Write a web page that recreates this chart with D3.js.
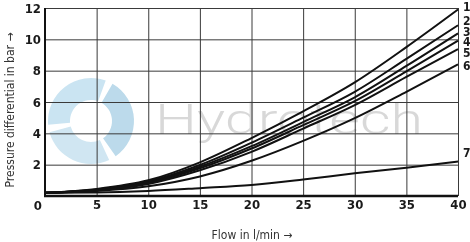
<!DOCTYPE html>
<meta charset="utf-8">
<style>
    body { margin: 0; background: #fff; }
    text { font-family: "Liberation Sans Narrow", "DejaVu Sans Condensed", "Liberation Sans", sans-serif; }
    .tick text { font-size: 13px; font-weight: bold; fill: #1a1a1a; }
    .grid line { stroke: #3a3a3a; stroke-width: 1; }
    .curve { fill: none; stroke: #111; stroke-width: 2; }
    .title { font-size: 12px; fill: #333; }
    .lbl { font-size: 13px; font-weight: bold; fill: #1a1a1a; }
    .endlbl { font-size: 12px; font-weight: bold; fill: #1a1a1a; }
</style>
<body>
<svg id="chart" width="470" height="242"></svg>
<script src="https://cdn.jsdelivr.net/npm/d3@7"></script>
<script>
    // flow in l/min
    var flow = [0, 5, 10, 15, 20, 25, 30, 35, 40];
    // pressure differential in bar, one list per curve
    var curve1 = [0.2, 0.45, 1.0, 2.15, 3.7, 5.4, 7.25, 9.5, 11.9];
    var curve2 = [0.2, 0.42, 0.93, 1.98, 3.4, 5.0, 6.65, 8.75, 10.9];
    var curve3 = [0.2, 0.40, 0.87, 1.87, 3.18, 4.72, 6.3, 8.3, 10.38];
    var curve4 = [0.2, 0.38, 0.83, 1.77, 3.03, 4.52, 6.05, 7.95, 9.91];
    var curve5 = [0.2, 0.36, 0.77, 1.64, 2.82, 4.3, 5.8, 7.6, 9.38];
    var curve6 = [0.2, 0.32, 0.62, 1.25, 2.25, 3.52, 4.97, 6.65, 8.4];
    var curve7 = [0.2, 0.22, 0.32, 0.5, 0.7, 1.05, 1.45, 1.8, 2.2];
    var curveNames = ["1", "2", "3", "4", "5", "6", "7"];
    var xTicks = [0, 5, 10, 15, 20, 25, 30, 35, 40];
    var yTicks = [0, 2, 4, 6, 8, 10, 12];

    var curves = [curve1, curve2, curve3, curve4, curve5, curve6, curve7];
    // small vertical shifts so the end labels don't collide
    var labelNudge = [-2.5, -4, -1.5, 1.5, 3.5, 2, -8.5];

    var plot = {left: 45, right: 458, top: 8, bottom: 196};

    var x = d3.scaleLinear().domain([0, 40]).range([plot.left, plot.right]);
    var y = d3.scaleLinear().domain([0, 12]).range([plot.bottom, plot.top]);

    var svg = d3.select("#chart");

    // watermark
    var wm = svg.append("g").attr("opacity", 0.7);
    var swirl = d3.arc().innerRadius(21).outerRadius(43);
    var segs = [[-95, 20], [30, 145], [155, 255]];
    wm.selectAll("path")
        .data(segs)
        .enter().append("path")
        .attr("transform", "translate(91,121)")
        .attr("d", function(d) {
            return swirl({startAngle: d[0] * Math.PI / 180, endAngle: d[1] * Math.PI / 180});
        })
        .attr("fill", function(d, i) { return ["#b4d9ec", "#9fcbe2", "#bcdcec"][i]; });
    wm.append("text")
        .attr("x", 155)
        .attr("y", 134)
        .attr("textLength", 268)
        .attr("lengthAdjust", "spacingAndGlyphs")
        .style("font-family", "Roboto, 'Open Sans', sans-serif")
        .style("font-weight", 300)
        .style("font-size", "42px")
        .style("fill", "#c8c8c8")
        .text("Hydrotech");

    // grid
    svg.append("g")
        .attr("class", "grid")
        .attr("transform", "translate(0," + plot.bottom + ")")
        .call(d3.axisBottom(x).tickValues(xTicks).tickSize(-(plot.bottom - plot.top)).tickFormat(""))
        .call(function(g) { g.select(".domain").remove(); });
    svg.append("g")
        .attr("class", "grid")
        .attr("transform", "translate(" + plot.left + ",0)")
        .call(d3.axisLeft(y).tickValues(yTicks).tickSize(-(plot.right - plot.left)).tickFormat(""))
        .call(function(g) { g.select(".domain").remove(); });

    // heavier axis lines
    svg.append("line").attr("x1", plot.left).attr("x2", plot.left).attr("y1", plot.top).attr("y2", plot.bottom + 1)
        .attr("stroke", "#111").attr("stroke-width", 2);
    svg.append("line").attr("x1", plot.left - 1).attr("x2", plot.right).attr("y1", plot.bottom).attr("y2", plot.bottom)
        .attr("stroke", "#111").attr("stroke-width", 2.5);

    // tick labels
    svg.append("g")
        .attr("transform", "translate(0," + plot.bottom + ")")
        .call(d3.axisBottom(x).tickValues(xTicks.slice(1)).tickSize(0).tickPadding(4))
        .call(function(g) { g.select(".domain").remove(); });
    svg.append("g")
        .attr("transform", "translate(" + plot.left + ",0)")
        .call(d3.axisLeft(y).tickValues(yTicks.slice(1)).tickSize(0).tickPadding(4))
        .call(function(g) { g.select(".domain").remove(); });
    svg.append("text")
        .attr("class", "lbl")
        .attr("x", plot.left - 3)
        .attr("y", plot.bottom + 14)
        .attr("text-anchor", "end")
        .text(yTicks[0]);

    // curves
    var line = d3.line()
        .x(function(d, i) { return x(flow[i]); })
        .y(function(d) { return y(d); })
        .curve(d3.curveMonotoneX);

    svg.selectAll(".curve")
        .data(curves)
        .enter().append("path")
        .attr("class", "curve")
        .attr("d", line);

    svg.selectAll(".endlbl")
        .data(curves)
        .enter().append("text")
        .attr("class", "endlbl")
        .attr("x", plot.right + 5)
        .attr("y", function(d, i) { return y(d[d.length - 1]) + labelNudge[i] + 4; })
        .text(function(d, i) { return curveNames[i]; });

    // axis titles
    svg.append("text")
        .attr("class", "title")
        .attr("x", 252)
        .attr("y", 239)
        .attr("text-anchor", "middle")
        .text("Flow in l/min \u2192");
    svg.append("text")
        .attr("class", "title")
        .attr("transform", "translate(14,110) rotate(-90)")
        .attr("text-anchor", "middle")
        .text("Pressure differential in bar \u2192");
</script>
</body>
